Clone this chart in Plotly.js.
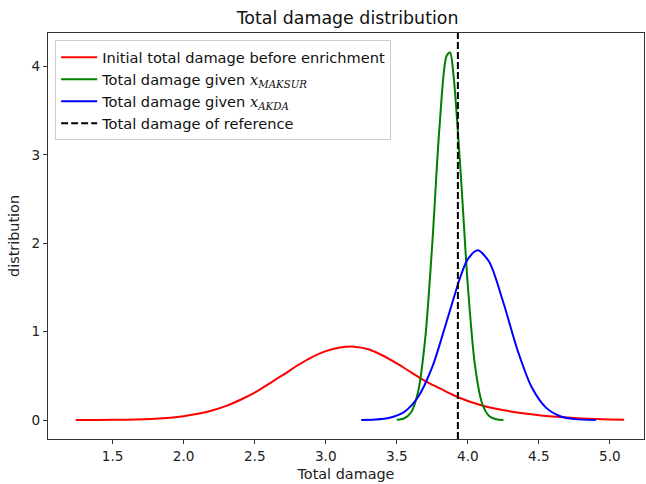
<!DOCTYPE html>
<html>
<head>
<meta charset="utf-8">
<script src="https://cdn.plot.ly/plotly-3.0.1.min.js"></script>
<style>html,body{margin:0;padding:0;background:#fff;}#chart{width:646px;height:484px;}</style>
</head>
<body>
<div id="chart"></div>
<script>
// Initial total damage before enrichment (red)
const redX = [1.24, 1.4, 1.6, 1.8, 2.0, 2.1, 2.2, 2.3, 2.4, 2.5, 2.6, 2.7, 2.8, 2.9, 3.0, 3.1, 3.2, 3.3, 3.4, 3.5, 3.6, 3.7, 3.8, 3.9, 4.0, 4.1, 4.2, 4.3, 4.4, 4.5, 4.6, 4.7, 4.8, 4.9, 5.0, 5.1];
const redY = [0.0, 0.001, 0.004, 0.014, 0.043, 0.07, 0.108, 0.16, 0.229, 0.31, 0.41, 0.51, 0.617, 0.71, 0.78, 0.82, 0.83, 0.80, 0.73, 0.64, 0.54, 0.44, 0.36, 0.28, 0.215, 0.165, 0.127, 0.097, 0.073, 0.054, 0.039, 0.027, 0.017, 0.010, 0.005, 0.002];
// Total damage given x_MAKSUR (green)
const greenX = [3.50, 3.55, 3.60, 3.65, 3.70, 3.75, 3.80, 3.85, 3.875, 3.90, 3.95, 4.00, 4.05, 4.10, 4.15, 4.20, 4.25];
const greenY = [0.003, 0.017, 0.085, 0.32, 0.92, 2.0, 3.30, 4.12, 4.16, 3.89, 2.79, 1.52, 0.62, 0.19, 0.046, 0.008, 0.001];
// Total damage given x_AKDA (blue)
const blueX = [3.25, 3.35, 3.45, 3.55, 3.65, 3.75, 3.85, 3.95, 4.00, 4.07, 4.15, 4.25, 4.35, 4.45, 4.55, 4.65, 4.75, 4.90];
const blueY = [0.001, 0.005, 0.025, 0.089, 0.26, 0.60, 1.11, 1.63, 1.82, 1.92, 1.79, 1.33, 0.79, 0.37, 0.14, 0.043, 0.010, 0.001];
// Total damage of reference (dashed vertical line)
const refDamage = 3.93;
const xRange = [1.045, 5.24];
const yRange = [-0.215, 4.38];
const xTicks = [1.5, 2.0, 2.5, 3.0, 3.5, 4.0, 4.5, 5.0];
const yTicks = [0, 1, 2, 3, 4];
const labels = [
  "Initial total damage before enrichment",
  "Total damage given <span style=\"font-family:'DejaVu Serif'\"><i>x</i><sub><i>MAKSUR</i></sub></span>",
  "Total damage given <span style=\"font-family:'DejaVu Serif'\"><i>x</i><sub><i>AKDA</i></sub></span>",
  "Total damage of reference"
];

const traces = [
  {x: redX, y: redY, mode: 'lines', name: labels[0], line: {color: '#ff0000', width: 2, shape: 'spline', smoothing: 0.8}},
  {x: greenX, y: greenY, mode: 'lines', name: labels[1], line: {color: '#007f00', width: 2, shape: 'spline', smoothing: 0.8}},
  {x: blueX, y: blueY, mode: 'lines', name: labels[2], line: {color: '#0000ff', width: 2, shape: 'spline', smoothing: 0.8}},
  {x: [refDamage, refDamage], y: yRange, mode: 'lines', name: labels[3], line: {color: '#000000', width: 2, dash: '7px,3px'}}
];

const axisCommon = {
  showgrid: false, zeroline: false, showline: true, mirror: true,
  linecolor: '#333', linewidth: 1.2, ticks: 'outside', ticklen: 4, tickwidth: 1, tickcolor: '#333',
  tickfont: {family: 'DejaVu Sans', size: 13.6, color: '#222'}
};

const layout = {
  width: 646, height: 484,
  margin: {l: 48, r: 2, t: 33, b: 45},
  paper_bgcolor: '#fff', plot_bgcolor: '#fff',
  font: {family: 'DejaVu Sans', color: '#222'},
  title: {text: 'Total damage distribution', font: {family: 'DejaVu Sans', size: 17.4, color: '#111'}, x: 0.538, xanchor: 'center', y: 0.963, yanchor: 'middle'},
  xaxis: Object.assign({}, axisCommon, {range: xRange, tickvals: xTicks, ticktext: xTicks.map(v => v.toFixed(1)),
    title: {text: 'Total damage', font: {family: 'DejaVu Sans', size: 14.4, color: '#222'}, standoff: 6}}),
  yaxis: Object.assign({}, axisCommon, {range: yRange, tickvals: yTicks, ticktext: yTicks.map(String),
    title: {text: 'distribution', font: {family: 'DejaVu Sans', size: 14.4, color: '#222'}, standoff: 8}}),
  showlegend: true,
  legend: {x: 0.012, y: 0.982, xanchor: 'left', yanchor: 'top', bgcolor: 'rgba(255,255,255,0.85)',
    bordercolor: '#cccccc', borderwidth: 1, itemwidth: 36, font: {family: 'DejaVu Sans', size: 14.6, color: '#111'}}
};

Plotly.newPlot('chart', traces, layout, {displayModeBar: false, staticPlot: true});
</script>
</body>
</html>
